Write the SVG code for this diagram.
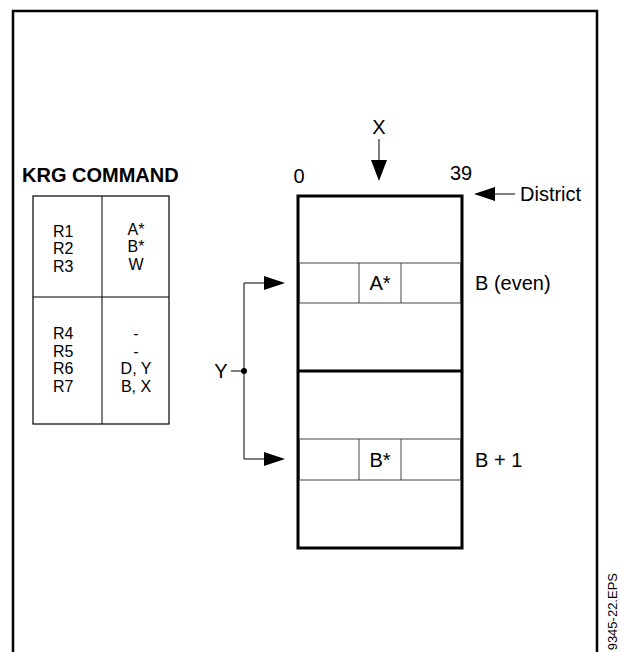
<svg xmlns="http://www.w3.org/2000/svg" width="621" height="652" viewBox="0 0 621 652">
<style>
text{font-family:"Liberation Sans",Arial,sans-serif;fill:#000}
.lbl{font-size:20px}
.tbl{font-size:16px}
.ttl{font-size:20px;font-weight:bold}
.thin{fill:none;stroke:#444;stroke-width:1}
.thick{fill:none;stroke:#000;stroke-width:3}
.con{fill:none;stroke:#000;stroke-width:1}
.head{fill:#000}
</style>
<rect width="621" height="652" fill="#fff"/>
<g id="frame">
<path d="M13,652 V11 H597 V652" fill="none" stroke="#000" stroke-width="2.5"/>
<text transform="translate(617,573) rotate(-90)" text-anchor="end" style="font-size:13px">9345-22.EPS</text>
</g>
<g id="krg-table">
<text class="ttl" x="22" y="182">KRG COMMAND</text>
<rect x="33" y="196" width="136" height="228" fill="none" stroke="#000" stroke-width="1.2"/>
<line x1="102" y1="196" x2="102" y2="424" stroke="#000" stroke-width="1"/>
<line x1="33" y1="297" x2="169" y2="297" stroke="#000" stroke-width="1.2"/>
<g class="tbl">
<text x="53" y="237">R1</text>
<text x="53" y="254">R2</text>
<text x="53" y="272">R3</text>
<text x="53" y="339">R4</text>
<text x="53" y="357">R5</text>
<text x="53" y="374">R6</text>
<text x="53" y="392">R7</text>
</g>
<g class="tbl" text-anchor="middle">
<text x="136" y="235">A*</text>
<text x="136" y="252">B*</text>
<text x="136" y="270">W</text>
<text x="136" y="339">-</text>
<text x="136" y="357">-</text>
<text x="136" y="374">D, Y</text>
<text x="136" y="392">B, X</text>
</g>
</g>
<g id="district-block">
<rect class="thick" x="298" y="196" width="164" height="352"/>
<line x1="298" y1="371" x2="462" y2="371" stroke="#000" stroke-width="3"/>
<text class="lbl" x="299" y="183" text-anchor="middle">0</text>
<text class="lbl" x="461" y="180" text-anchor="middle">39</text>
</g>
<g id="row-a">
<rect class="thin" x="299.5" y="263" width="161" height="40"/>
<line class="thin" x1="359" y1="263" x2="359" y2="303"/>
<line class="thin" x1="401" y1="263" x2="401" y2="303"/>
<text class="lbl" x="380" y="290" text-anchor="middle">A*</text>
<text class="lbl" x="475" y="290">B (even)</text>
</g>
<g id="row-b">
<rect class="thin" x="299.5" y="439" width="161" height="41"/>
<line class="thin" x1="359" y1="439" x2="359" y2="480"/>
<line class="thin" x1="401" y1="439" x2="401" y2="480"/>
<text class="lbl" x="380" y="467" text-anchor="middle">B*</text>
<text class="lbl" x="475" y="467">B + 1</text>
</g>
<g id="labels">
<text class="lbl" x="379" y="134" text-anchor="middle">X</text>
<text class="lbl" x="520" y="201">District</text>
<text class="lbl" x="221" y="378" text-anchor="middle">Y</text>
</g>
<g id="connectors">
<line class="con" x1="379" y1="139" x2="379" y2="162"/>
<polygon class="head" points="371,160 387,160 379,181"/>
<line class="con" x1="495" y1="194" x2="515" y2="194"/>
<polygon class="head" points="474,194 495,187 495,201"/>
<line class="con" x1="231" y1="371" x2="244" y2="371"/>
<circle cx="244" cy="371" r="3" fill="#000"/>
<path class="con" d="M264,283 H244 V459 H264"/>
<polygon class="head" points="285,283 264,276 264,290"/>
<polygon class="head" points="285,459 264,452 264,466"/>
</g>
</svg>
